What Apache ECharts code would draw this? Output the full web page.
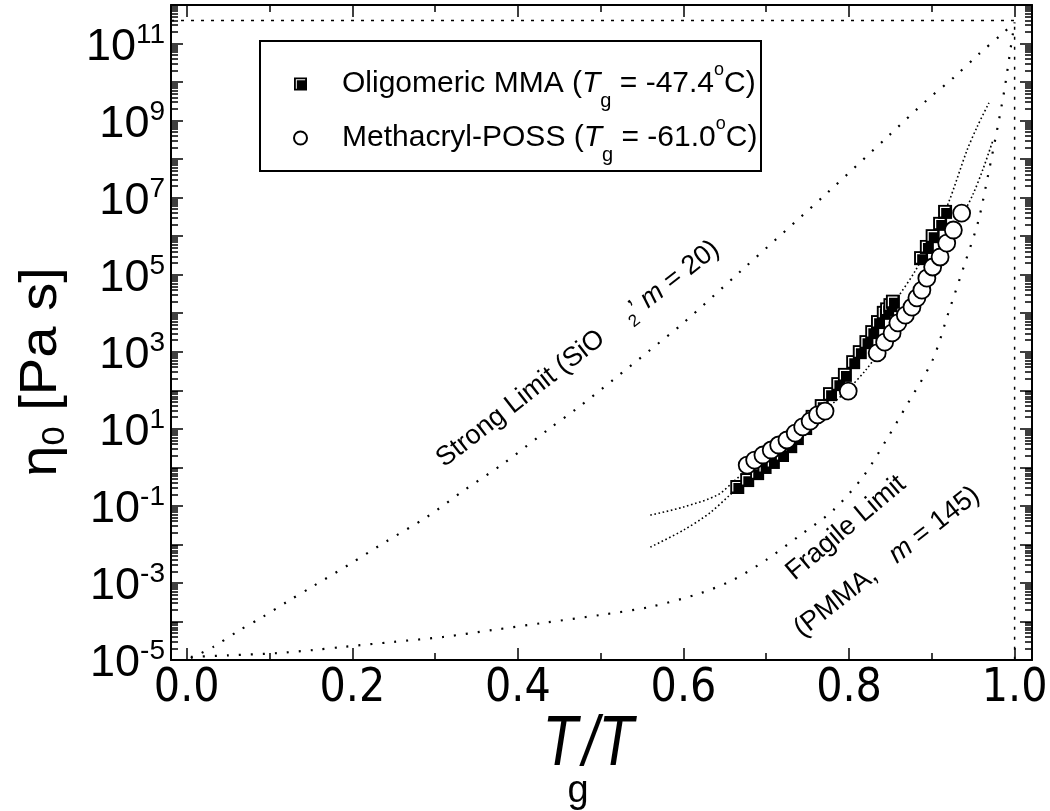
<!DOCTYPE html>
<html><head><meta charset="utf-8">
<script src="https://cdn.jsdelivr.net/npm/echarts@6/dist/echarts.min.js"></script>
<style>html,body{margin:0;padding:0;background:#fff}#c{width:1050px;height:811px}</style>
</head><body><div id="c"></div>
<script>
const FONT = "'Liberation Sans', Arial, Helvetica, sans-serif";
const NARROW = "'Liberation Sans Narrow', 'Arial Narrow', 'DejaVu Sans Condensed', 'Liberation Sans', sans-serif";

// ---- axis ranges / ticks ----
const X_MIN = -0.019, X_MAX = 1.021;
const Y_MIN = -5, Y_MAX = 12;              // log10(eta) range
const xMajorTicks = [0, 0.2, 0.4, 0.6, 0.8, 1.0];
const xMinorTicks = [0.1, 0.3, 0.5, 0.7, 0.9];
const yLabelExponents = [-5, -3, -1, 1, 3, 5, 7, 9, 11];

// ---- data: x = Tg/T, y = log10(eta0 / Pa s) ----
const mmaX = [0.665,0.677,0.689,0.698,0.708,0.719,0.729,0.737,0.747,0.756,0.767,0.777,0.787,0.795,0.805,0.813,0.821,0.828,0.835,0.842,0.846,0.850,0.853,0.887,0.894,0.901,0.910,0.916];
const mmaLogEta = [-0.51,-0.33,-0.15,0.01,0.14,0.32,0.55,0.76,1.02,1.31,1.59,1.90,2.16,2.40,2.73,2.99,3.25,3.51,3.77,4.01,4.10,4.21,4.30,5.43,5.72,6.00,6.32,6.63];

const possX = [0.677,0.686,0.696,0.706,0.715,0.725,0.735,0.744,0.753,0.762,0.771,0.799,0.834,0.843,0.852,0.859,0.868,0.876,0.882,0.888,0.894,0.901,0.910,0.918,0.926,0.936];
const possLogEta = [0.06,0.19,0.32,0.45,0.58,0.71,0.89,1.05,1.20,1.36,1.46,1.98,2.97,3.25,3.49,3.75,3.95,4.16,4.40,4.60,4.91,5.20,5.46,5.82,6.16,6.60];

const mmaFitX = [0.56,0.60,0.632,0.656,0.677,0.70,0.72,0.74,0.76,0.78,0.80,0.82,0.84,0.86,0.88,0.90,0.92,0.942,0.955,0.969];
const mmaFitLogEta = [-2.07,-1.63,-1.18,-0.72,-0.33,0.05,0.38,0.84,1.38,1.97,2.57,3.2,3.85,4.45,5.1,5.9,6.86,8.2,8.85,9.46];

const possFitX = [0.56,0.60,0.641,0.66,0.68,0.70,0.72,0.74,0.76,0.78,0.80,0.82,0.84,0.86,0.88,0.90,0.92,0.936,0.95,0.962,0.974];
const possFitLogEta = [-1.24,-1.03,-0.72,-0.38,0.0,0.33,0.65,0.97,1.30,1.65,2.05,2.52,3.1,3.8,4.45,5.15,5.85,6.5,7.1,7.75,8.5];

const strongX = [0.005,0.032,0.062,0.092,0.121,0.153,0.197,0.242,0.290,0.334,0.382,0.439,0.472,0.515,0.560,0.600,0.668,0.775,0.849,0.894,0.926,0.957,0.986,1.0];
const strongLogEta = [-4.95,-4.66,-4.25,-3.88,-3.49,-3.08,-2.51,-1.91,-1.29,-0.61,0.09,1.02,1.54,2.27,3.05,3.75,5.07,7.15,8.63,9.53,10.11,10.73,11.27,11.55];

const fragileX = [0.005,0.05,0.11,0.153,0.189,0.25,0.31,0.37,0.43,0.50,0.56,0.62,0.66,0.70,0.741,0.781,0.817,0.845,0.871,0.901,0.920,0.940,0.956,0.968,0.980,0.988,0.995,1.0];
const fragileLogEta = [-4.92,-4.88,-4.82,-4.74,-4.66,-4.53,-4.40,-4.22,-4.04,-3.83,-3.62,-3.27,-2.92,-2.40,-1.76,-1.11,-0.24,0.71,1.66,2.79,4.01,5.3,6.38,7.59,8.89,9.84,10.85,11.55];

const refX = [X_MIN, 1.0, 1.0];
const refLogEta = [11.6, 11.6, Y_MIN];

// ---- helpers ----
const zip = (xs, ys) => xs.map((x, i) => [x, ys[i]]);
const yMinorTicks = [];
for (let n = Y_MIN; n < Y_MAX; n++) for (let k = 2; k <= 9; k++) yMinorTicks.push(n + Math.log10(k));

const blk = '#000';
function xAxisDef(pos, ticks, len, withLine, withLabel) {
  return {
    type: 'value', min: X_MIN, max: X_MAX, position: pos,
    axisLine: { show: withLine, onZero: false, lineStyle: { color: blk, width: 2 } },
    axisTick: { show: true, inside: true, length: len, customValues: ticks, lineStyle: { color: blk, width: 1.5 } },
    axisLabel: withLabel ? { show: true, customValues: xMajorTicks, formatter: v => v.toFixed(1),
      fontSize: 46, fontFamily: NARROW, color: blk, margin: 6 } : { show: false },
    splitLine: { show: false }, axisPointer: { show: false }
  };
}
function yAxisDef(pos, ticks, len, withLine, withLabel) {
  const tick = { show: true, inside: true, length: len, lineStyle: { color: blk, width: 1.5 } };
  if (ticks) tick.customValues = ticks;
  return {
    type: 'value', min: Y_MIN, max: Y_MAX, interval: 1, position: pos,
    axisLine: { show: withLine, onZero: false, lineStyle: { color: blk, width: 2 } },
    axisTick: tick,
    axisLabel: withLabel ? {
      show: true, customValues: yLabelExponents, margin: 6,
      formatter: v => '{b|10}{s|' + v + '}',
      rich: {
        b: { fontSize: 45, fontFamily: FONT, color: blk, lineHeight: 45, padding: [8, 0, 0, 0] },
        s: { fontSize: 28, fontFamily: FONT, color: blk, lineHeight: 28, verticalAlign: 'top' }
      }
    } : { show: false },
    splitLine: { show: false }, axisPointer: { show: false }
  };
}

const sqIcon = 'path://M0,0L14,0L14,14L0,14Z M2,2L2,12L3,12L3,3L12,3L12,2Z';

const chart = echarts.init(document.getElementById('c'), null, { renderer: 'canvas' });
const lineBase = { type: 'line', showSymbol: false, symbol: 'none', silent: true, clip: true, xAxisIndex: 0, yAxisIndex: 0 };

const option = {
  animation: false,
  backgroundColor: '#fff',
  grid: { left: 171, right: 18, top: 5, bottom: 151, containLabel: false, outerBoundsMode: 'none' },
  xAxis: [
    xAxisDef('bottom', xMajorTicks, 12, true, true),
    xAxisDef('bottom', xMinorTicks, 7, false, false),
    xAxisDef('top', xMajorTicks, 12, true, false),
    xAxisDef('top', xMinorTicks, 7, false, false)
  ],
  yAxis: [
    yAxisDef('left', null, 12, true, true),
    yAxisDef('left', yMinorTicks, 7, false, false),
    yAxisDef('right', null, 12, true, false),
    yAxisDef('right', yMinorTicks, 7, false, false)
  ],
  legend: {
    orient: 'vertical', left: 288, top: 52, itemGap: 0, itemWidth: 13, itemHeight: 13,
    selectedMode: false,
    data: [{ name: 'Oligomeric MMA', icon: sqIcon }, { name: 'Methacryl-POSS', icon: 'circle' }],
    formatter: name => name === 'Oligomeric MMA'
      ? '{p|Oligomeric MMA (}{i|T}{sub|g}{n| = -47.4}{sup|o}{n|C)}'
      : '{p|Methacryl-POSS (}{i|T}{sub|g}{n| = -61.0}{sup|o}{n|C)}',
    textStyle: {
      fontFamily: FONT, fontSize: 30, color: blk,
      rich: {
        p: { fontFamily: FONT, fontSize: 30, color: blk, lineHeight: 34, padding: [0, 0, 0, 30] },
        n: { fontFamily: FONT, fontSize: 30, color: blk, lineHeight: 34 },
        i: { fontFamily: FONT, fontSize: 30, color: blk, lineHeight: 34, fontStyle: 'italic' },
        sub: { fontFamily: FONT, fontSize: 20, color: blk, lineHeight: 20, padding: [34, 0, 0, 0], verticalAlign: 'middle' },
        sup: { fontFamily: FONT, fontSize: 18, color: blk, lineHeight: 18, padding: [0, 0, 28, 0], verticalAlign: 'middle' }
      }
    }
  },
  graphic: [
    { type: 'rect', shape: { x: 260, y: 41, width: 501, height: 130 }, style: { fill: 'none', stroke: blk, lineWidth: 2 }, z: 10 },
    { type: 'text', x: 42, y: 372, rotation: Math.PI / 2, scaleX: 1.08, z: 10,
      style: { text: '{a|η}{s|0}{a| [Pa s]}', align: 'center', verticalAlign: 'middle',
        rich: { a: { fontFamily: FONT, fontSize: 52, fill: blk, lineHeight: 52 },
                s: { fontFamily: FONT, fontSize: 32, fill: blk, lineHeight: 32, padding: [26, 0, 0, 0], verticalAlign: 'middle' } } } },
    { type: 'text', x: 560, y: 746, scaleX: 0.82, z: 10,
      style: { text: 'T', fontFamily: FONT, fontSize: 70, fontStyle: 'italic', fill: blk, align: 'center', verticalAlign: 'middle' } },
    { type: 'text', x: 578, y: 792, z: 10,
      style: { text: 'g', fontFamily: FONT, fontSize: 38, fill: blk, align: 'center', verticalAlign: 'middle' } },
    { type: 'text', x: 608, y: 746, scaleX: 0.82, z: 10,
      style: { text: '/T', fontFamily: FONT, fontSize: 70, fontStyle: 'italic', fill: blk, align: 'center', verticalAlign: 'middle' } },
    { type: 'text', x: 578, y: 354, rotation: 38 * Math.PI / 180, z: 10,
      style: { text: '{a|Strong Limit (SiO}{s|2}{a|’ }{i|m}{a| = 20)}', align: 'center', verticalAlign: 'middle',
        rich: { a: { fontFamily: FONT, fontSize: 27, fill: blk, lineHeight: 30 },
                i: { fontFamily: FONT, fontSize: 27, fill: blk, lineHeight: 30, fontStyle: 'italic' },
                s: { fontFamily: FONT, fontSize: 17, fill: blk, lineHeight: 17, padding: [18, 0, 0, 30], verticalAlign: 'middle' } } } },
    { type: 'text', x: 846, y: 528, rotation: 40 * Math.PI / 180, z: 10,
      style: { text: 'Fragile Limit', fontFamily: FONT, fontSize: 27, fill: blk, align: 'center', verticalAlign: 'middle' } },
    { type: 'text', x: 887, y: 562, rotation: 38 * Math.PI / 180, z: 10,
      style: { text: '{a|(PMMA,   }{i|m}{a| = 145)}', align: 'center', verticalAlign: 'middle',
        rich: { a: { fontFamily: FONT, fontSize: 27, fill: blk }, i: { fontFamily: FONT, fontSize: 27, fill: blk, fontStyle: 'italic' } } } }
  ],
  series: [
    Object.assign({}, lineBase, { data: zip(refX, refLogEta), z: 2,
      lineStyle: { color: blk, width: 1.5, type: [3, 7] } }),
    Object.assign({}, lineBase, { data: zip(strongX, strongLogEta), z: 2, smooth: 0.3,
      lineStyle: { color: blk, width: 2.2, type: [2, 10] } }),
    Object.assign({}, lineBase, { data: zip(fragileX, fragileLogEta), z: 2, smooth: 0.3,
      lineStyle: { color: blk, width: 2.2, type: [2, 10] } }),
    Object.assign({}, lineBase, { data: zip(mmaFitX, mmaFitLogEta), z: 2, smooth: 0.3,
      lineStyle: { color: blk, width: 1.6, type: [1.6, 2.6] } }),
    Object.assign({}, lineBase, { data: zip(possFitX, possFitLogEta), z: 2, smooth: 0.3,
      lineStyle: { color: blk, width: 1.6, type: [1.6, 2.6] } }),
    {
      name: 'Oligomeric MMA', type: 'custom', xAxisIndex: 0, yAxisIndex: 0, z: 4,
      data: zip(mmaX, mmaLogEta), encode: { x: 0, y: 1 }, itemStyle: { color: blk },
      renderItem: (params, api) => {
        const p = api.coord([api.value(0), api.value(1)]);
        const s = 14, h = s / 2, d = 2.5;
        return { type: 'group', children: [
          { type: 'rect', shape: { x: p[0] - h, y: p[1] - h, width: s, height: s }, style: { fill: blk } },
          { type: 'polyline', shape: { points: [[p[0] - h + d, p[1] + h - d], [p[0] - h + d, p[1] - h + d], [p[0] + h - d, p[1] - h + d]] },
            style: { stroke: '#fff', lineWidth: 1.2, fill: null } }
        ] };
      }
    },
    {
      name: 'Methacryl-POSS', type: 'scatter', xAxisIndex: 0, yAxisIndex: 0, z: 5,
      symbol: 'circle', symbolSize: 17, data: zip(possX, possLogEta),
      itemStyle: { color: '#fff', borderColor: blk, borderWidth: 1.8, opacity: 1 }
    }
  ]
};
chart.setOption(option);
</script>
</body></html>
